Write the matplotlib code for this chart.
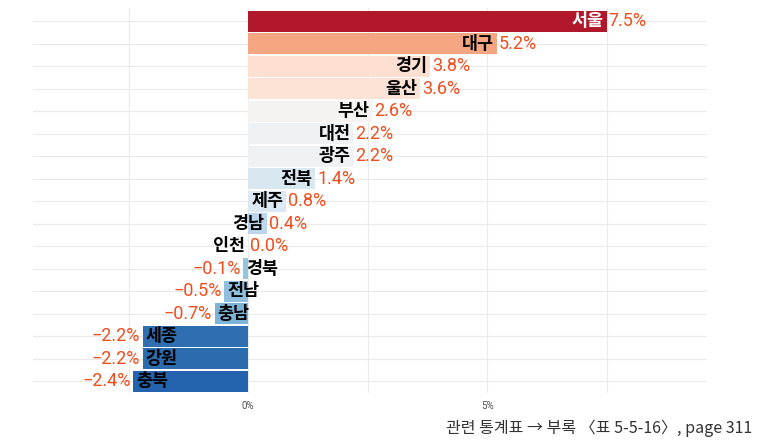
import matplotlib.pyplot as plt

# ==========================================
# Data
# ==========================================
regions = ["서울", "대구", "경기", "울산", "부산", "대전", "광주", "전북", "제주",
           "경남", "인천", "경북", "전남", "충남", "세종", "강원", "충북"]
values = [7.5, 5.2, 3.8, 3.6, 2.6, 2.2, 2.2, 1.4, 0.8,
          0.4, 0.0, -0.1, -0.5, -0.7, -2.2, -2.2, -2.4]
colors = ["#B2182B", "#F4A582", "#FDE0D1", "#FDE3D6", "#F5F3F1", "#EFF2F5", "#EFF2F5",
          "#D9E7F1", "#DCE8F2", "#BBD6EA", "#F7F7F7", "#92C5DE", "#8EC0DD", "#7CB4D8",
          "#2F6EB1", "#2D6BAF", "#2463AD"]
xticks = [0, 5]
xtick_labels = ["0%", "5%"]
footer = "관련 통계표 → 부록 〈표 5-5-16〉, page 311"

value_color = "#EE4E1E"
ko_font = ["Noto Sans CJK KR", "DejaVu Sans"]
num_font = ["Roboto", "DejaVu Sans"]

# ==========================================
# Plot
# ==========================================
fig = plt.figure(figsize=(7.62, 4.41), dpi=100)
ax = fig.add_axes([33 / 762, 1 - 393 / 441, 674 / 762, 385 / 441])

ypos = list(range(len(regions)))
ax.barh(ypos, values, height=0.93, color=colors, edgecolor="none", zorder=2)

for y, name, v in zip(ypos, regions, values):
    name_color = "white" if name == "서울" else "black"
    txt = f"{v:.1f}%".replace("-", "\u2212")
    if v >= 0:
        ax.annotate(name, (v, y), xytext=(-2, 0), textcoords="offset points",
                    ha="right", va="center", fontsize=12.5, fontweight="bold",
                    color=name_color, family=ko_font, zorder=3)
        ax.annotate(txt, (v, y), xytext=(1.5, 0), textcoords="offset points",
                    ha="left", va="center", fontsize=13, color=value_color,
                    family=num_font, zorder=3)
    else:
        ax.annotate(name, (v, y), xytext=(2, 0), textcoords="offset points",
                    ha="left", va="center", fontsize=12.5, fontweight="bold",
                    color=name_color, family=ko_font, zorder=3)
        ax.annotate(txt, (v, y), xytext=(-2, 0), textcoords="offset points",
                    ha="right", va="center", fontsize=13, color=value_color,
                    family=num_font, zorder=3)

ax.set_xlim(-4.5, 9.6)
ax.set_ylim(16.53, -0.58)

# grid like ggplot minimal
for y in ypos:
    ax.axhline(y, color="#EBEBEB", linewidth=0.8, zorder=0)
for x in [-2.5, 0, 2.5, 5, 7.5]:
    ax.axvline(x, color="#EBEBEB", linewidth=0.8, zorder=0)

ax.set_xticks(xticks)
ax.set_xticklabels(xtick_labels, fontsize=7, color="#4D4D4D", family=num_font)
ax.set_yticks([])
ax.tick_params(axis="x", length=0, pad=6)
for s in ax.spines.values():
    s.set_visible(False)

fig.text(752 / 762, 1 - 428 / 441, footer, ha="right", va="center",
         fontsize=11.5, color="#333333", family=ko_font)

fig.savefig("out.png", dpi=100)
